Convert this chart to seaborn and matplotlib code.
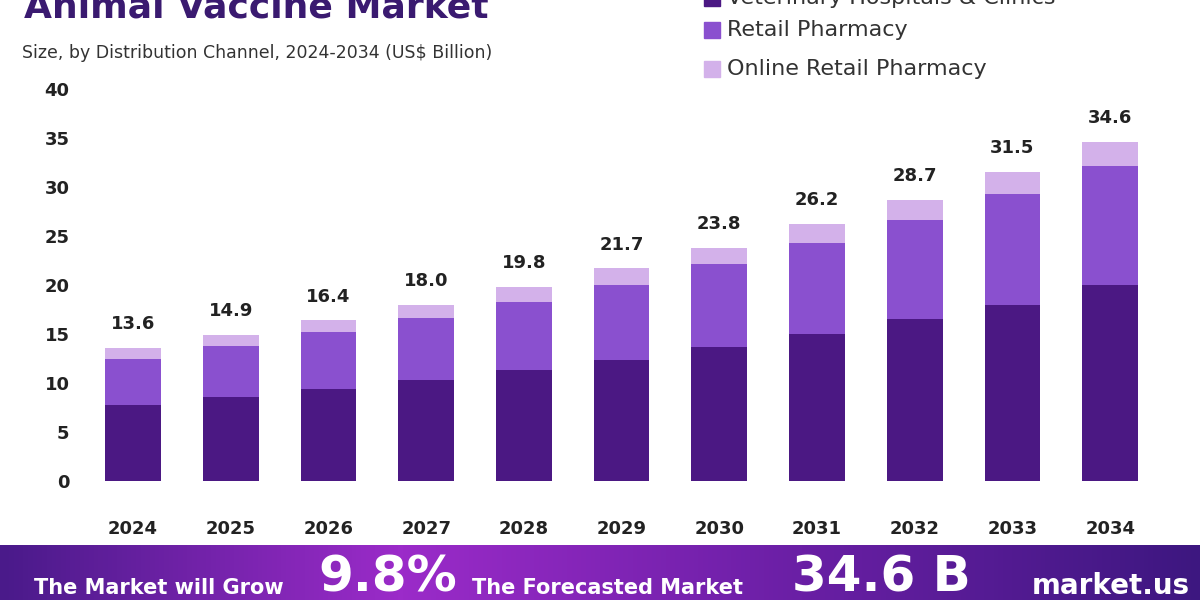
import numpy as np
import pandas as pd
import matplotlib
matplotlib.use("Agg")
import matplotlib.pyplot as plt
import seaborn as sns

years = ["2024","2025","2026","2027","2028","2029","2030","2031","2032","2033","2034"]
vet_hosp = [7.8, 8.6, 9.4, 10.3, 11.3, 12.4, 13.7, 15.0, 16.5, 18.0, 20.0]
retail = [4.7, 5.2, 5.8, 6.3, 7.0, 7.6, 8.4, 9.3, 10.1, 11.3, 12.1]
totals = [13.6, 14.9, 16.4, 18.0, 19.8, 21.7, 23.8, 26.2, 28.7, 31.5, 34.6]
online = [round(t - a - b, 2) for t, a, b in zip(totals, vet_hosp, retail)]
series_names = ["Veterinary Hospitals & Clinics", "Retail Pharmacy", "Online Retail Pharmacy"]
colors = ["#4b1883", "#8a50cf", "#d3b1ea"]

plt.rcParams["font.family"] = "Poppins" if False else "DejaVu Sans"
fig = plt.figure(figsize=(12, 6), dpi=100)
ax = fig.add_axes([0.062, 0.198, 0.912, 0.654])

df = pd.DataFrame({"year": years, "a": vet_hosp, "b": retail, "c": online})
b1 = np.array(vet_hosp); b2 = b1 + np.array(retail)
sns.barplot(data=df, x="year", y="a", color=colors[0], width=0.57, ax=ax, saturation=1)
sns.barplot(x=years, y=retail, bottom=b1, color=colors[1], width=0.57, ax=ax, saturation=1)
sns.barplot(x=years, y=online, bottom=b2, color=colors[2], width=0.57, ax=ax, saturation=1)
for i, t in enumerate(totals):
    ax.text(i, t + 1.5, f"{t:.1f}", ha="center", va="bottom", fontsize=13, fontweight="bold", color="#222")

ax.set_xlim(-0.6, 10.6)
ax.set_ylim(0, 40)
ax.set_yticks(range(0, 41, 5))
ax.set_xlabel(""); ax.set_ylabel("")
for s in ax.spines.values():
    s.set_visible(False)
ax.tick_params(length=0, labelsize=13)
ax.tick_params(axis="x", pad=28)
for l in ax.get_xticklabels() + ax.get_yticklabels():
    l.set_fontweight("bold"); l.set_color("#222")

fig.text(0.02, 1 - 24/600, "Animal Vaccine Market", fontsize=26, fontweight="bold", color="#3a1a70", va="bottom")
fig.text(0.018, 1 - 53/600, "Size, by Distribution Channel, 2024-2034 (US$ Billion)", fontsize=12.5, color="#333", va="center")

ly = [-2, 30, 69]
for name, c, y in zip(series_names, colors, ly):
    fig.patches.append(plt.Rectangle((704/1200, 1 - (y + 8)/600), 16/1200, 16/600, transform=fig.transFigure, color=c))
    fig.text(727/1200, 1 - y/600, name, fontsize=16, color="#333", va="center")

# bottom banner
bax = fig.add_axes([0, 0, 1, 55/600])
grad = np.linspace(0, 1, 256)
bax.imshow(np.vstack([grad, grad]), aspect="auto", cmap=matplotlib.colors.LinearSegmentedColormap.from_list("g", ["#4a1a8a", "#9b2bc9", "#6a1fa5", "#3d1780"]), extent=[0, 1, 0, 1])
bax.set_axis_off()
fig.text(0.028, 22/600, "The Market will Grow\nat the CAGR of:", fontsize=15, fontweight="bold", color="white", va="top", linespacing=1.4)
fig.text(0.265, 22/600, "9.8%", fontsize=36, fontweight="bold", color="white", va="center")
fig.text(0.393, 22/600, "The Forecasted Market\nSize for 2034 in US$", fontsize=15, fontweight="bold", color="white", va="top", linespacing=1.4)
fig.text(0.66, 22/600, "34.6 B", fontsize=36, fontweight="bold", color="white", va="center")
fig.text(0.86, 14/600, "market.us", fontsize=20, fontweight="bold", color="white", va="center")

fig.savefig("out.png", dpi=100)
